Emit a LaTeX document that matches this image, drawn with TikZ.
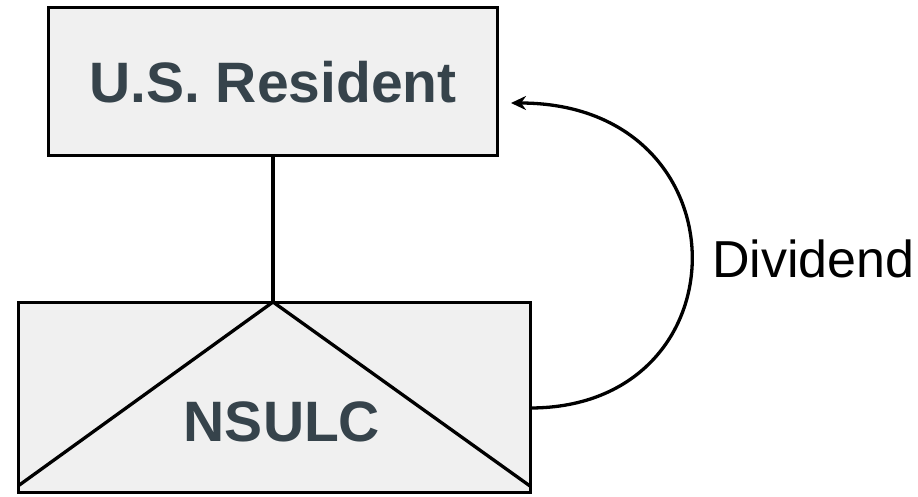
\documentclass[tikz,border=0pt]{standalone}
\usepackage{fontspec}
\setmainfont{Liberation Sans}
\usetikzlibrary{arrows.meta}
\definecolor{boxfill}{HTML}{F0F0F0}
\definecolor{boxtext}{HTML}{36434B}
\begin{document}
\begin{tikzpicture}[x=1pt,y=-1pt,
  entbox/.style={draw=black,fill=boxfill,line width=3pt,inner sep=0pt},
  conn/.style={draw=black,line width=3.3pt},
  boldlabel/.style={text=boxtext,font=\fontsize{57}{62}\selectfont\bfseries,inner sep=0pt},
  plainlabel/.style={text=black,font=\fontsize{52}{58}\selectfont,inner sep=0pt}]
\useasboundingbox (0,0) rectangle (918,496);
\node[entbox,minimum width=449pt,minimum height=148pt] (us) at (272.5,81.5) {};
\node[boldlabel] (ustext) at (273,82) {U.S. Resident};
\node[entbox,minimum width=512pt,minimum height=190pt] (ns) at (274,397) {};
\coordinate (apex) at (273,302);
\coordinate (bl) at (18,486);
\coordinate (br) at (530,486);
\draw[conn] (us.south -| apex) -- (apex);
\draw[conn,line join=miter] (bl) -- (apex) -- (br);
\node[boldlabel] (nstext) at (282,422) {NSULC};
\coordinate (s) at (530,408);
\coordinate (e) at (511,103);
\draw[conn,-{Stealth[length=15pt,width=14pt]}] (s) .. controls (748,408) and (748,103) .. (e);
\node[plainlabel,anchor=base west] (div) at (712,277) {Dividend};
\end{tikzpicture}
\end{document}
